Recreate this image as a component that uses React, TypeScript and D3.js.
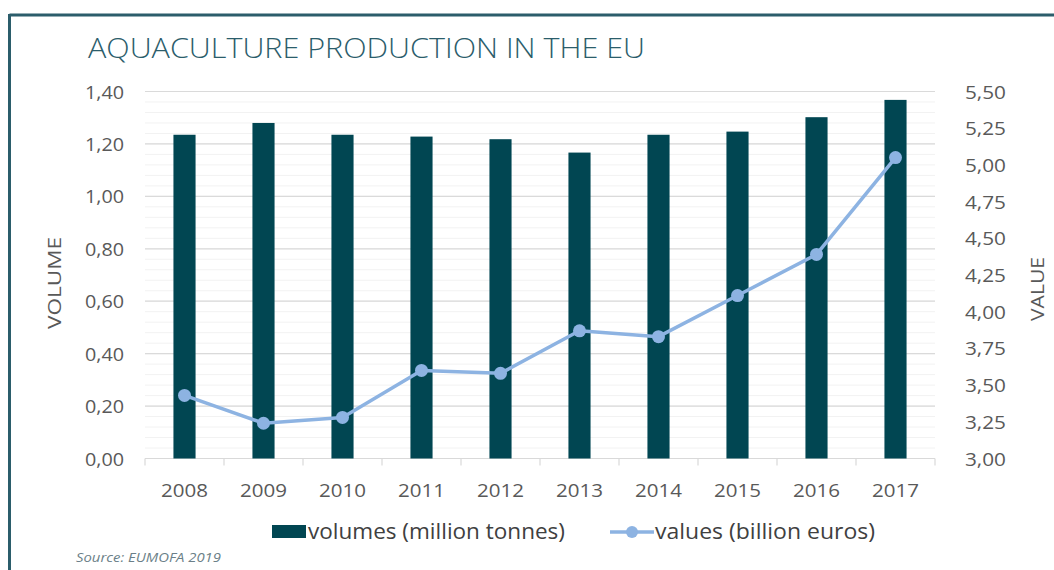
import React from "react";
import * as d3 from "d3";

const years = ["2008", "2009", "2010", "2011", "2012", "2013", "2014", "2015", "2016", "2017"];
const volumes = [1.235, 1.28, 1.235, 1.228, 1.218, 1.167, 1.235, 1.247, 1.302, 1.368];
const values = [3.43, 3.24, 3.28, 3.6, 3.58, 3.87, 3.83, 4.11, 4.39, 5.05];
const leftTicks = [0, 0.2, 0.4, 0.6, 0.8, 1.0, 1.2, 1.4];
const rightTicks = [3.0, 3.25, 3.5, 3.75, 4.0, 4.25, 4.5, 4.75, 5.0, 5.25, 5.5];
const title = "AQUACULTURE PRODUCTION IN THE EU";
const source = "Source: EUMOFA 2019";
const legendBar = "volumes (million tonnes)";
const legendLine = "values (billion euros)";

const W = 1054;
const H = 570;
const left = 145;
const right = 935;
const top = 91.5;
const bottom = 458.5;

const BAR = "#014652";
const LINE = "#8db3e2";
const TEXT = "#595959";
const TEAL = "#2b5d6b";
const FONT = "'Open Sans', 'Noto Sans', sans-serif";

const fmt = (v: number) => v.toFixed(2).replace(".", ",");

export default function App() {
  const x = d3.scaleBand<string>().domain(years).range([left, right]).paddingInner(0.72).paddingOuter(0.36);
  const band = d3.scaleBand<string>().domain(years).range([left, right]);
  const yL = d3.scaleLinear().domain([0, 1.4]).range([bottom, top]);
  const yR = d3.scaleLinear().domain([3, 5.5]).range([bottom, top]);
  const minor = d3.range(0, 1.4001, 0.04);
  const line = d3
    .line<number>()
    .x((_, i) => (band(years[i]) as number) + band.bandwidth() / 2)
    .y((d) => yR(d));

  return (
    <svg width={W} height={H} style={{ position: "absolute", left: 0, top: 0, background: "#fff" }}>
      <rect x={0} y={0} width={W} height={H} fill="#fff" />
      {/* frame */}
      <line x1={9.5} x2={W} y1={15} y2={15} stroke={TEAL} strokeWidth={3} />
      <line x1={9.5} x2={9.5} y1={14} y2={H} stroke={TEAL} strokeWidth={3} />
      <text x={88} y={58} fontFamily={FONT} fontSize={28} fill={TEAL} fontWeight={300} textLength={557} lengthAdjust="spacingAndGlyphs">
        {title}
      </text>
      {/* minor grid */}
      {minor.map((v, i) => (
        <line key={"m" + i} x1={left} x2={right} y1={yL(v)} y2={yL(v)} stroke="#f2f2f2" strokeWidth={1} />
      ))}
      {leftTicks.map((v, i) => (
        <line key={"g" + i} x1={left} x2={right} y1={yL(v)} y2={yL(v)} stroke="#dadada" strokeWidth={1.2} />
      ))}
      {/* x axis */}
      <line x1={left} x2={right} y1={bottom} y2={bottom} stroke="#d9d9d9" strokeWidth={1.2} />
      {years.map((y, i) => (
        <line key={"t" + i} x1={band(y) as number} x2={band(y) as number} y1={bottom} y2={bottom + 7} stroke="#d9d9d9" strokeWidth={1.2} />
      ))}
      <line x1={right} x2={right} y1={bottom} y2={bottom + 7} stroke="#d9d9d9" strokeWidth={1.2} />
      {/* bars */}
      {volumes.map((v, i) => (
        <rect key={"b" + i} x={x(years[i])} y={yL(v)} width={x.bandwidth()} height={bottom - yL(v)} fill={BAR} />
      ))}
      {/* line */}
      <path d={line(values) || ""} fill="none" stroke={LINE} strokeWidth={3.5} strokeLinejoin="round" />
      {values.map((v, i) => (
        <circle key={"c" + i} cx={(band(years[i]) as number) + band.bandwidth() / 2} cy={yR(v)} r={6.5} fill={LINE} />
      ))}
      {/* left axis labels */}
      {leftTicks.map((v, i) => (
        <text key={"l" + i} x={124} y={yL(v) + 7} textAnchor="end" fontFamily={FONT} fontSize={19} fill={TEXT} textLength={39} lengthAdjust="spacingAndGlyphs">
          {fmt(v)}
        </text>
      ))}
      {rightTicks.map((v, i) => (
        <text key={"r" + i} x={965} y={yR(v) + 7} textAnchor="start" fontFamily={FONT} fontSize={19} fill={TEXT} textLength={41} lengthAdjust="spacingAndGlyphs">
          {fmt(v)}
        </text>
      ))}
      {years.map((y, i) => (
        <text key={"x" + i} x={(band(y) as number) + band.bandwidth() / 2} y={497} textAnchor="middle" fontFamily={FONT} fontSize={19} fill={TEXT} textLength={47} lengthAdjust="spacingAndGlyphs">
          {y}
        </text>
      ))}
      <text transform={`translate(61,283) rotate(-90)`} textAnchor="middle" fontFamily={FONT} fontSize={19} fill={TEXT} textLength={92} lengthAdjust="spacingAndGlyphs">
        VOLUME
      </text>
      <text transform={`translate(1044,289) rotate(-90)`} textAnchor="middle" fontFamily={FONT} fontSize={19} fill={TEXT} textLength={64} lengthAdjust="spacingAndGlyphs">
        VALUE
      </text>
      {/* legend */}
      <rect x={272} y={525} width={34} height={13} fill={BAR} />
      <text x={308} y={539} fontFamily={FONT} fontSize={21} fill="#404040" textLength={257} lengthAdjust="spacingAndGlyphs">
        {legendBar}
      </text>
      <line x1={610} x2={654} y1={532} y2={532} stroke={LINE} strokeWidth={3.5} />
      <circle cx={632} cy={532} r={6} fill={LINE} />
      <text x={655} y={539} fontFamily={FONT} fontSize={21} fill="#404040" textLength={220} lengthAdjust="spacingAndGlyphs">
        {legendLine}
      </text>
      <text x={76} y={562} fontFamily={FONT} fontSize={13} fontStyle="italic" fill="#6b7f88" textLength={145} lengthAdjust="spacingAndGlyphs">
        {source}
      </text>
    </svg>
  );
}
